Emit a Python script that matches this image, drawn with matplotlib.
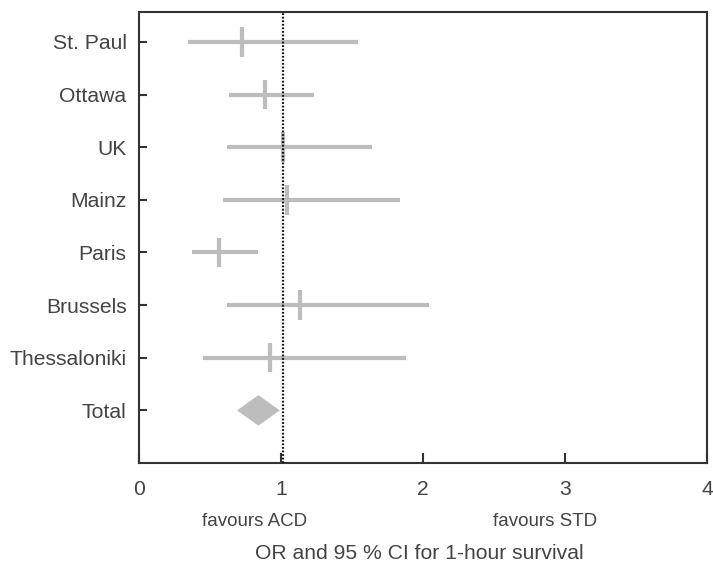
import matplotlib.pyplot as plt
import numpy as np
from matplotlib.patches import Polygon

plt.rcParams['font.family'] = ['Liberation Sans', 'DejaVu Sans']

# studies, top to bottom
studies = ['St. Paul', 'Ottawa', 'UK', 'Mainz', 'Paris', 'Brussels', 'Thessaloniki']
odds = [0.725, 0.89, 1.01, 1.04, 0.56, 1.13, 0.92]
ci_low = [0.345, 0.63, 0.62, 0.59, 0.37, 0.62, 0.45]
ci_high = [1.54, 1.23, 1.64, 1.84, 0.84, 2.04, 1.88]

# pooled estimate
total_or = 0.84
total_low = 0.69
total_high = 0.99

labels = studies + ['Total']
ypos = np.arange(len(labels), 0, -1)

fig = plt.figure(figsize=(7.13, 5.64), dpi=100)
ax = fig.add_axes([0.195, 0.179, 0.797, 0.8])

grey = '#bdbdbd'
for y, o, lo, hi in zip(ypos[:-1], odds, ci_low, ci_high):
    ax.plot([lo, hi], [y, y], color=grey, lw=3, solid_capstyle='butt', zorder=2)
    ax.plot([o, o], [y - 0.28, y + 0.28], color=grey, lw=3, solid_capstyle='butt', zorder=2)

# diamond for total
yt = ypos[-1]
diamond = Polygon([[total_low, yt], [total_or, yt + 0.29], [total_high, yt], [total_or, yt - 0.29]],
                  closed=True, facecolor=grey, edgecolor='none', zorder=2)
ax.add_patch(diamond)

ax.axvline(1.01, color='#111111', ls=(0, (0.8, 0.8)), lw=1.6, zorder=3)

ax.set_xlim(0, 4)
ax.set_ylim(0, len(labels) + 0.57)
ax.set_yticks(ypos)
ax.set_yticklabels(labels)
ax.set_xticks([0, 1, 2, 3, 4])

for s in ax.spines.values():
    s.set_color('#333333')
    s.set_linewidth(1.5)
ax.tick_params(axis='both', direction='in', colors='#333333', labelcolor='#444444', labelsize=15.2)
ax.tick_params(axis='x', length=7, width=1.5, pad=12)
ax.tick_params(axis='y', length=6, width=1.5, pad=9)

ax.text(0.81, -0.13, 'favours ACD', transform=ax.get_xaxis_transform(), ha='center', va='center',
        fontsize=13.5, color='#444444')
ax.text(2.86, -0.13, 'favours STD', transform=ax.get_xaxis_transform(), ha='center', va='center',
        fontsize=13.5, color='#444444')
ax.text(1.97, -0.2, 'OR and 95 % CI for 1-hour survival', transform=ax.get_xaxis_transform(),
        ha='center', va='center', fontsize=15.2, color='#444444')

fig.savefig('out.png', dpi=100)
